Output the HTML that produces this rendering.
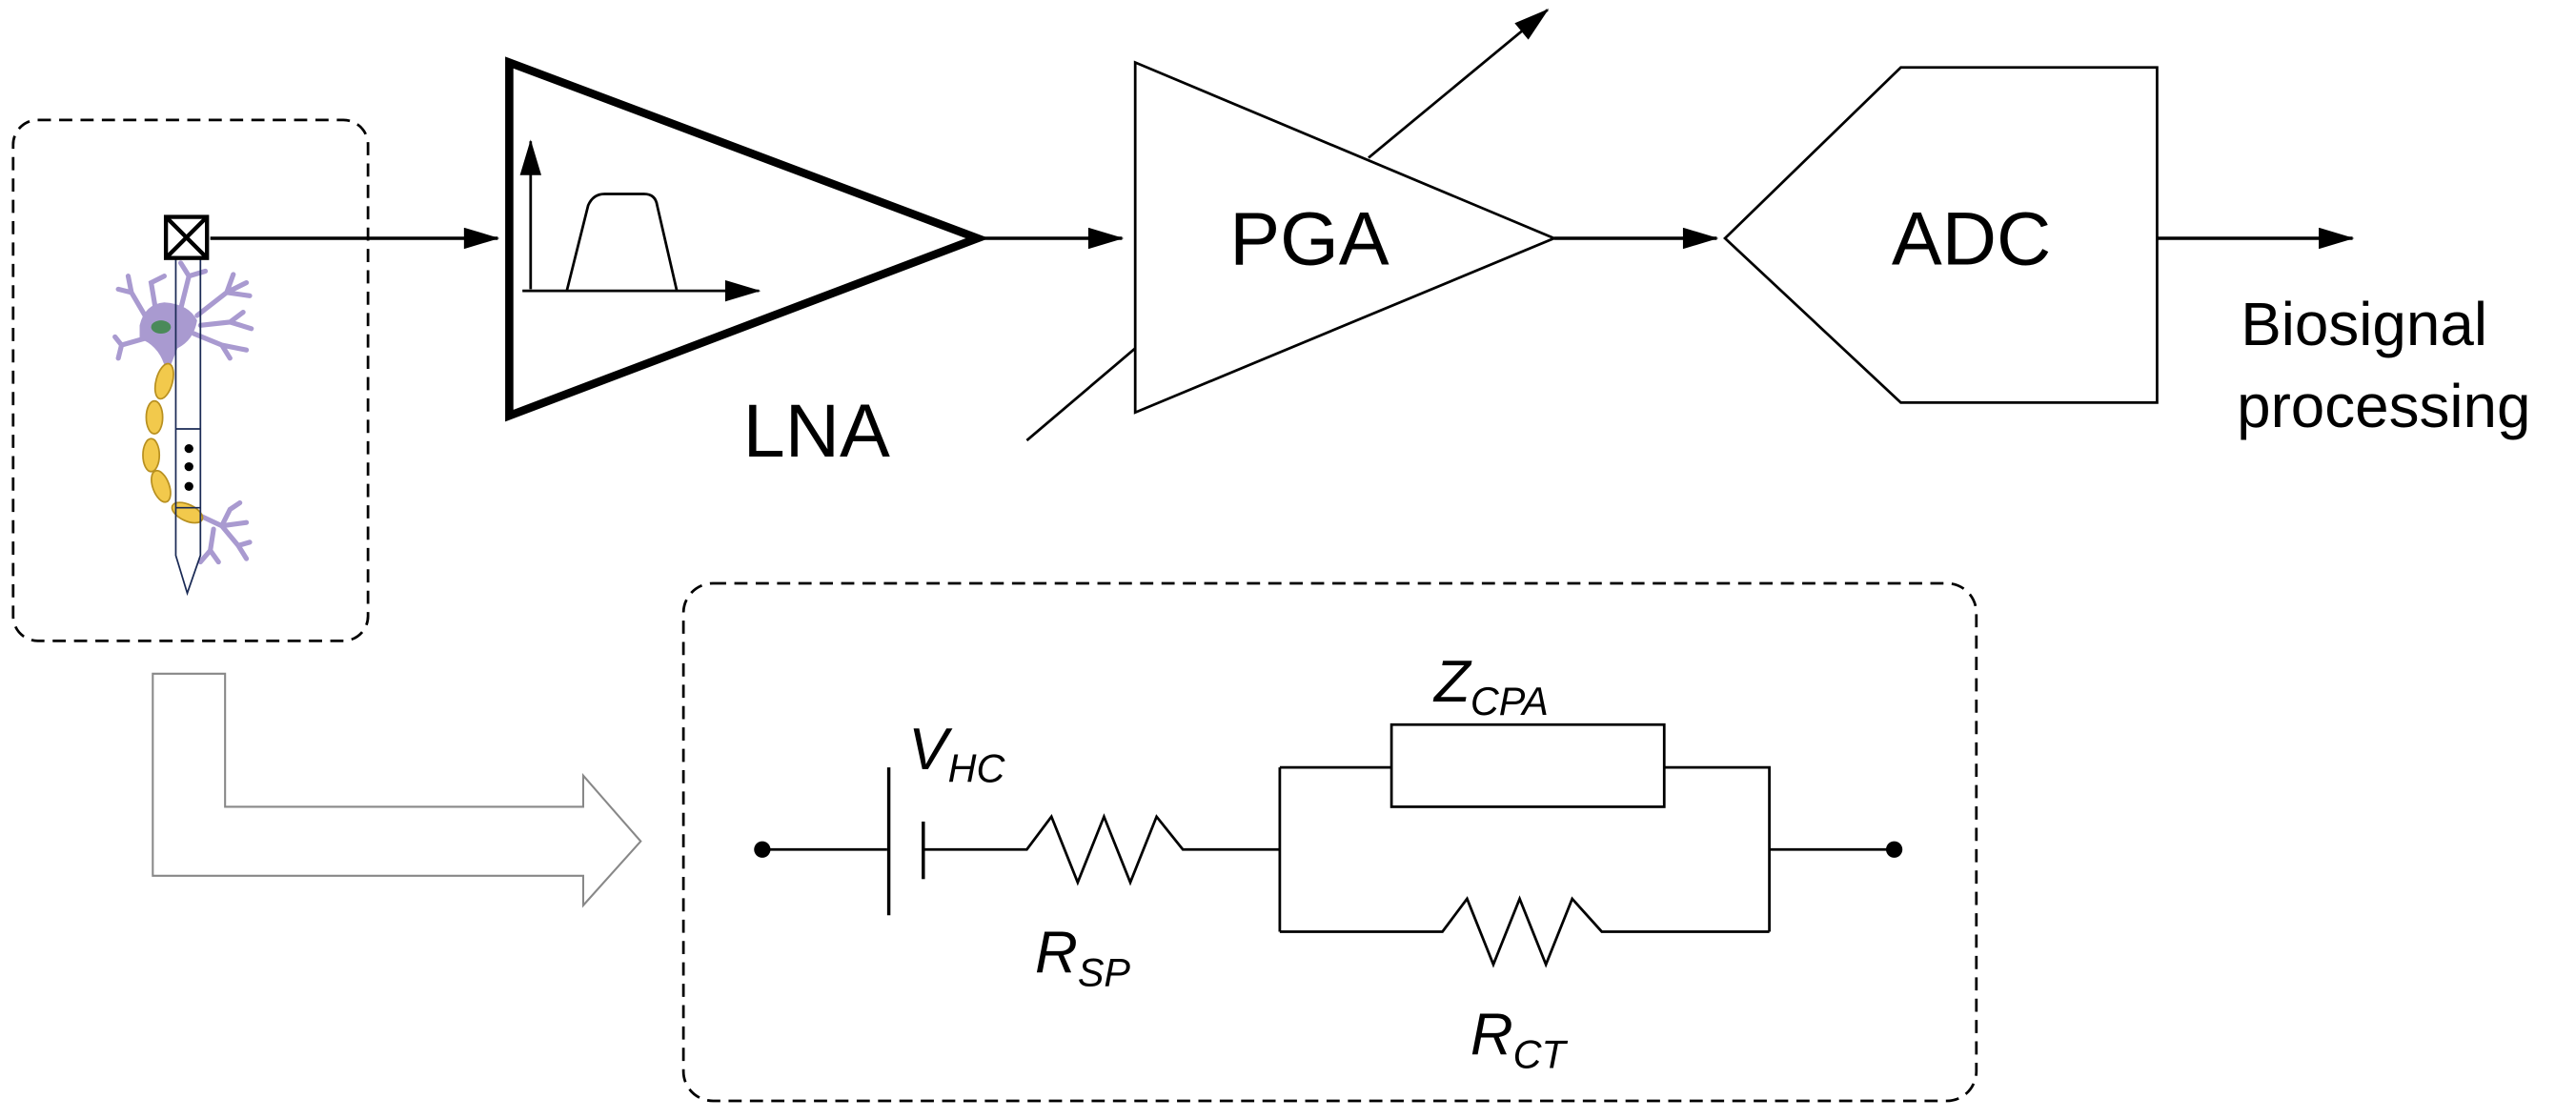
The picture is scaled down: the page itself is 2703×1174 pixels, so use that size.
<!DOCTYPE html>
<html><head><meta charset="utf-8"><style>html,body{margin:0;padding:0;background:#fff}svg{display:block}</style></head><body>
<svg width="2703" height="1174" viewBox="0 0 1568 681" xmlns="http://www.w3.org/2000/svg" font-family="Liberation Sans, Arial, sans-serif">
<defs>
<marker id="b" viewBox="0 0 20 12" markerWidth="22" markerHeight="13" refX="19" refY="6" orient="auto" markerUnits="userSpaceOnUse"><path d="M0,0 L20,6 L0,12z" fill="#000"/></marker></defs>
<g fill="none" stroke="#000" stroke-width="2">
<rect x="8" y="73" width="216" height="317" rx="15" stroke-dasharray="8,5" stroke-width="1.6"/>
<rect x="416" y="355" width="787" height="315" rx="18" stroke-dasharray="8,5" stroke-width="1.6"/>
<line x1="128" y1="145" x2="303" y2="145" marker-end="url(#b)"/>
<polygon points="310,38 310,253 595,145" stroke-width="5"/>
<line x1="323" y1="176" x2="323" y2="86" stroke-width="1.6" marker-end="url(#b)"/>
<line x1="318" y1="177" x2="462" y2="177" stroke-width="1.6" marker-end="url(#b)"/>
<path d="M345,177 L358,125 Q361,118 368,118 L392,118 Q399,118 400,125 L412,177" stroke-width="1.6"/>
<line x1="595" y1="145" x2="683" y2="145" marker-end="url(#b)"/>
<polygon points="691,38 691,251 946,145" stroke-width="1.6"/>
<line x1="625" y1="268" x2="691" y2="212" stroke-width="1.6"/>
<line x1="833" y1="96" x2="942" y2="6" stroke-width="1.6" marker-end="url(#b)"/>
<line x1="946" y1="145" x2="1045" y2="145" marker-end="url(#b)"/>
<polygon points="1050,145 1157,41 1313,41 1313,245 1157,245" stroke-width="1.6"/>
<line x1="1313" y1="145" x2="1432" y2="145" marker-end="url(#b)"/>
<polygon points="93,410 137,410 137,491 355,491 355,472 390,512 355,551 355,533 93,533" stroke="#888" stroke-width="1.2"/>
<path d="M464,517 H540 M562,517 H625 L640,497 L656,537 L672,497 L688,537 L704,497 L720,517 H779 M779,467 V567 M779,467 H847 M1013,467 H1077 V567 M779,567 H878 L893,547 L909,587 L925,547 L941,587 L957,547 L975,567 H1077 M1077,517 H1153" stroke-width="1.6"/>
<line x1="541" y1="467" x2="541" y2="557" stroke-width="2"/>
<line x1="562" y1="500" x2="562" y2="535" stroke-width="2"/>
<rect x="847" y="441" width="166" height="50" stroke-width="1.6"/>
</g>
<circle cx="464" cy="517" r="5"/><circle cx="1153" cy="517" r="5"/>
<!-- neuron -->
<g fill="none" stroke="#a99ad0" stroke-width="3" stroke-linecap="round">
<path d="M90,195 L80,178 L72,176 M80,178 L78,168 M95,190 L92,172 L100,168 M110,188 L115,168 L125,165 M115,168 L110,160 M120,192 L138,178 L150,172 M138,178 L142,167 M138,178 L152,180 M122,198 L140,196 L153,200 M140,196 L148,190 M118,203 L135,210 L150,213 M135,210 L140,218 M88,206 L74,210 L70,205 M74,210 L72,218"/>
<path d="M120,313 L135,320 L150,318 M135,320 L140,310 L146,306 M135,320 L145,332 L150,340 M145,332 L152,330 M130,322 L128,335 L122,342 M128,335 L133,342"/>
</g>
<path d="M85,198 Q88,185 100,184 Q115,185 120,195 Q118,207 108,212 L104,222 L100,222 Q96,210 85,206 Z" fill="#a99ad0"/>
<ellipse cx="98" cy="199" rx="6" ry="4" fill="#4a8a5a"/>
<g fill="#f2c94c" stroke="#b89020" stroke-width="1">
<ellipse cx="100" cy="232" rx="5" ry="11" transform="rotate(15 100 232)"/>
<ellipse cx="94" cy="254" rx="5" ry="10"/>
<ellipse cx="92" cy="277" rx="5" ry="10"/>
<ellipse cx="98" cy="296" rx="5" ry="10" transform="rotate(-20 98 296)"/>
<ellipse cx="114" cy="312" rx="10" ry="5" transform="rotate(25 114 312)"/>
</g>
<g fill="none" stroke="#1a2a55" stroke-width="1">
<path d="M107,158 V338 L114,361 L122,338 V158"/>
<line x1="107" y1="261" x2="122" y2="261"/><line x1="107" y1="309" x2="122" y2="309"/>
</g>
<circle cx="115" cy="273" r="2.7"/><circle cx="115" cy="284" r="2.7"/><circle cx="115" cy="296" r="2.7"/>
<g fill="#fff" stroke="#000" stroke-width="2.5"><rect x="101" y="132" width="25" height="25"/><path d="M101,132 L126,157 M126,132 L101,157" fill="none"/></g>
<g font-size="46" text-anchor="middle">
<text x="497" y="278">LNA</text><text x="797" y="161">PGA</text><text x="1200" y="161">ADC</text>
</g>
<g font-size="37" text-anchor="middle"><text x="1439" y="210">Biosignal</text><text x="1451" y="260">processing</text></g>
<g font-size="36" font-style="italic">
<text x="553" y="468">V<tspan font-size="24" dy="8">HC</tspan></text>
<text x="630" y="592">R<tspan font-size="24" dy="8">SP</tspan></text>
<text x="873" y="427">Z<tspan font-size="24" dy="8">CPA</tspan></text>
<text x="895" y="642">R<tspan font-size="24" dy="8">CT</tspan></text>
</g>
</svg>
</body></html>
